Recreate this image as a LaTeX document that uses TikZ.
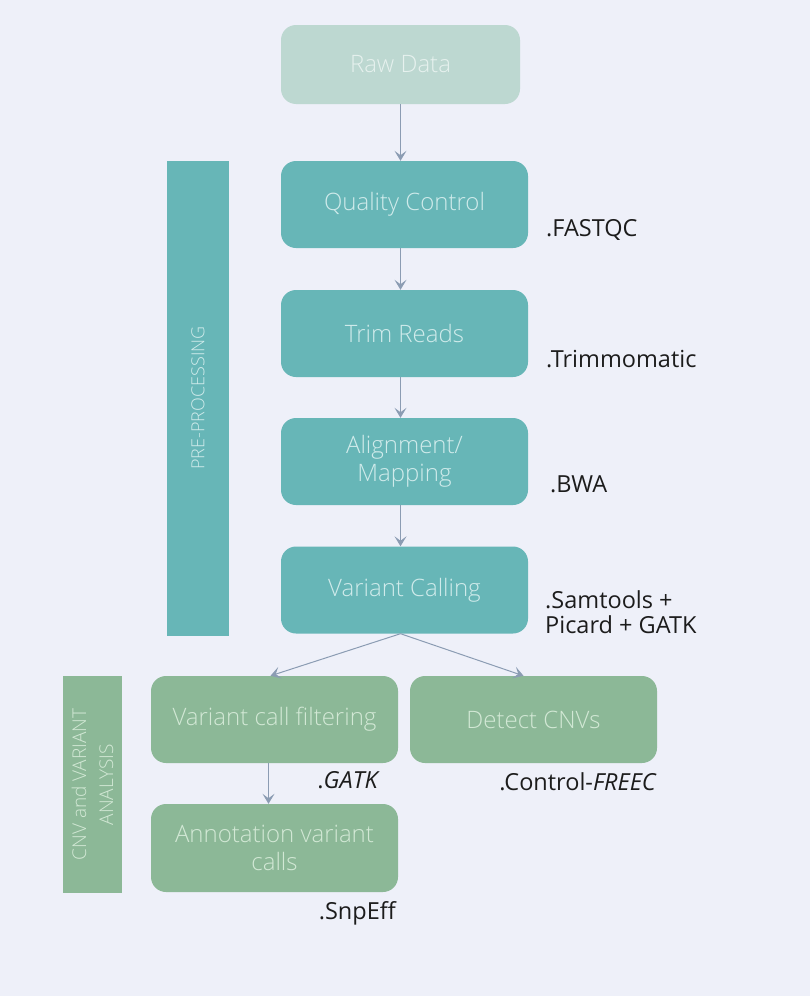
\documentclass[tikz,border=0pt]{standalone}
\usepackage{fontspec}
\setmainfont{Open Sans}
\IfFontExistsTF{Open Sans Light}{\newfontfamily\boxfont{Open Sans Light}}{\newfontfamily\boxfont{Open Sans}}
\usetikzlibrary{arrows.meta}

\definecolor{pagebg}{HTML}{EEF0F9}
\definecolor{rawfill}{HTML}{BDD8D1}
\definecolor{rawtext}{HTML}{E6F1EE}
\definecolor{prefill}{HTML}{67B6B7}
\definecolor{pretext}{HTML}{D0EBEB}
\definecolor{anafill}{HTML}{8CB897}
\definecolor{anatext}{HTML}{D2E8D5}
\definecolor{flowline}{HTML}{8B9CB3}
\definecolor{tooltext}{HTML}{1C1C1C}

\tikzset{
  stagebox/.style={rounded corners=15pt, minimum width=247pt, minimum height=87pt,
    align=center, inner sep=2pt, font=\boxfont\fontsize{24}{28}\selectfont},
  prebox/.style={stagebox, fill=prefill, text=pretext},
  anabox/.style={stagebox, fill=anafill, text=anatext},
  phasebar/.style={minimum width=#1, inner sep=0pt, align=center, rotate=90},
  toollabel/.style={text=tooltext, align=left, inner sep=0pt,
    font=\fontsize{23.5}{25}\selectfont},
  flow/.style={draw=flowline, line width=1pt,
    -{Stealth[length=10pt, width=12pt, inset=4.5pt]}}
}

\begin{document}
\begin{tikzpicture}[x=1pt, y=-1pt]
  \fill[pagebg] (0,0) rectangle (810,996);
  \useasboundingbox (0,0) rectangle (810,996);

  % Raw Data:
  %   sequencing output, the start of the pipeline
  \node[stagebox, fill=rawfill, text=rawtext, minimum width=239pt, minimum height=79pt]
    (raw) at (400.5, 64.5) {Raw Data};

  % Pre-processing stages
  \node[prebox] (qc) at (404.5, 204.5) {Quality Control};
  \node[prebox] (trim) at (404.5, 333.5) {Trim Reads};
  \node[prebox] (align) at (404.5, 461.5) {Alignment/\\Mapping};
  \node[prebox] (vcall) at (404.5, 590) {Variant Calling};

  % PRE-PROCESSING:
  %   side bar covering the first four stages
  \node[phasebar=475pt, minimum height=62pt, fill=prefill, text=pretext,
    font=\boxfont\fontsize{18}{22}\selectfont] (prebar) at (198, 398) {PRE-PROCESSING};

  % Analysis stages
  \node[anabox] (filt) at (274.5, 719.5) {Variant call filtering};
  \node[anabox] (cnv) at (533.5, 719.5) {Detect CNVs};
  \node[anabox, minimum height=88pt] (annot) at (274.5, 848) {Annotation variant\\calls};

  % CNV and VARIANT ANALYSIS:
  %   side bar covering the analysis stages
  \node[phasebar=217pt, minimum height=59pt, fill=anafill, text=anatext,
    font=\boxfont\fontsize{19}{27}\selectfont] (anabar) at (92.5, 784.5)
    {CNV and VARIANT\\ANALYSIS};

  % Tools used at each stage
  \node[toollabel, anchor=west] (fastqc) at (546, 230) {.FASTQC};
  \node[toollabel, anchor=west] (trimmo) at (546, 359) {.Trimmomatic};
  \node[toollabel, anchor=west] (bwa) at (550, 484) {.BWA};
  \node[toollabel, anchor=west] (samtools) at (545, 612) {.Samtools +\\Picard + GATK};
  \node[toollabel, anchor=east] (gatk) at (380, 780) {.\textit{GATK}};
  \node[toollabel, anchor=east] (freec) at (657, 782) {.Control-\textit{FREEC}};
  \node[toollabel, anchor=east] (snpeff) at (396, 913) {.SnpEff};

  \draw[flow] (raw.south) -- (raw.south |- qc.north);
  \draw[flow] (raw.south |- qc.south) -- (raw.south |- trim.north);
  \draw[flow] (raw.south |- trim.south) -- (raw.south |- align.north);
  \draw[flow] (raw.south |- align.south) -- (raw.south |- vcall.north);

  \draw[flow] (raw.south |- vcall.south) -- ([xshift=-4pt]filt.north);
  \draw[flow] (raw.south |- vcall.south) -- ([xshift=-10pt]cnv.north);
  \draw[flow] ([xshift=-6pt]filt.south) -- ([xshift=-6pt]annot.north);
\end{tikzpicture}
\end{document}
